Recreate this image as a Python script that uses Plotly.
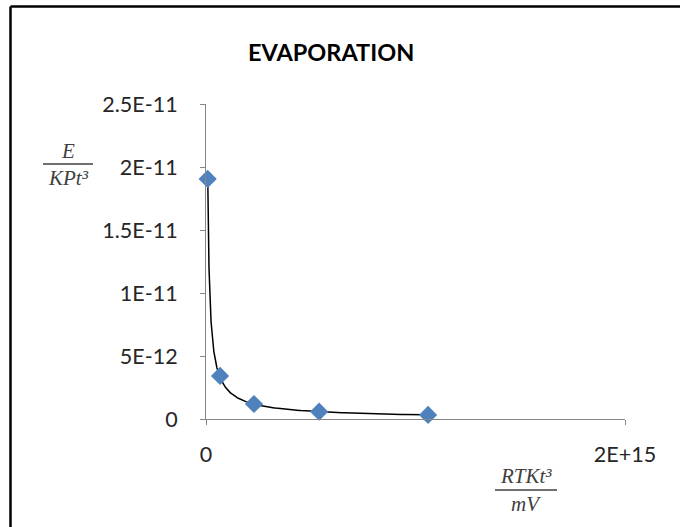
import numpy as np
import plotly.graph_objects as go

# ---- data ----
x_vals = [8e12, 6.7e13, 2.29e14, 5.4e14, 1.06e15]
y_vals = [1.905e-11, 3.42e-12, 1.19e-12, 0.58e-12, 0.32e-12]

y_tickvals = [0, 5e-12, 1e-11, 1.5e-11, 2e-11, 2.5e-11]
y_ticktext = ["0", "5E-12", "1E-11", "1.5E-11", "2E-11", "2.5E-11"]
x_tickvals = [0, 2e15]
x_ticktext = ["0", "2E+15"]

title_text = "EVAPORATION"

# ---- power trendline fitted to the data (like the spreadsheet's power trendline) ----
b, loga = np.polyfit(np.log(x_vals), np.log(y_vals), 1)
x_fit = np.geomspace(min(x_vals), max(x_vals), 300)
y_fit = np.exp(loga) * x_fit ** b

W, H = 680, 527
OFF = 0                      # page body margin (removed by post_script)
SL, ST, PW, PH = 206, 104, 419, 315   # plot area in screen pixels
L, T = SL - OFF, ST - OFF
R, B = W - L - PW, H - T - PH


def px(x):
    return (x - SL) / PW


def py(y):
    return (ST + PH - y) / PH


AXC = "#868686"
FONT = "Lato"

fig = go.Figure()
fig.add_trace(go.Scatter(x=x_fit, y=y_fit, mode="lines",
                         line=dict(color="black", width=1.5),
                         hoverinfo="skip", showlegend=False))
fig.add_trace(go.Scatter(x=x_vals, y=y_vals, mode="markers",
                         marker=dict(symbol="diamond", size=14, color="#4F81BD",
                                     line=dict(width=0)),
                         showlegend=False, cliponaxis=False))

fig.update_layout(
    width=W, height=H,
    margin=dict(l=L, r=R, t=T, b=B, autoexpand=False),
    paper_bgcolor="white", plot_bgcolor="white",
    font=dict(family=FONT, size=21.5, color="#262626"),
    xaxis=dict(range=[0, 2e15], tickvals=x_tickvals, ticktext=x_ticktext,
               showgrid=False, zeroline=False, showline=True, linecolor=AXC,
               linewidth=1, ticks="outside", ticklen=5, tickcolor=AXC,
               ticklabelstandoff=11, fixedrange=True),
    yaxis=dict(range=[0, 2.5e-11], tickvals=y_tickvals, ticktext=y_ticktext,
               showgrid=False, zeroline=False, showline=True, linecolor=AXC,
               linewidth=1, ticks="outside", ticklen=5, tickcolor=AXC,
               ticklabelstandoff=18, fixedrange=True),
)

shapes = [
    # outer frame (top and left edges visible)
    dict(type="line", xref="paper", yref="paper", x0=px(10.5), x1=px(700),
         y0=py(6.5), y1=py(6.5), line=dict(color="black", width=2.5)),
    dict(type="line", xref="paper", yref="paper", x0=px(10.5), x1=px(10.5),
         y0=py(6.5), y1=py(545), line=dict(color="black", width=2.5)),
    # fraction bars
    dict(type="line", xref="paper", yref="paper", x0=px(43), x1=px(93),
         y0=py(164), y1=py(164), line=dict(color="#404040", width=1.5)),
    dict(type="line", xref="paper", yref="paper", x0=px(495), x1=px(557),
         y0=py(490), y1=py(490), line=dict(color="#404040", width=1.5)),
]
fig.update_layout(shapes=shapes)

SERIF = dict(family="Liberation Serif", size=21, color="#404040")
ann = [
    dict(text="<b>" + title_text + "</b>", x=px(331), y=py(52),
         font=dict(family=FONT, size=23.5, color="black")),
    dict(text="<i>E</i>", x=px(68), y=py(151), font=SERIF),
    dict(text="<i>KPt³</i>", x=px(68), y=py(178), font=SERIF),
    dict(text="<i>RTKt³</i>", x=px(526), y=py(476), font=SERIF),
    dict(text="<i>mV</i>", x=px(526), y=py(504), font=SERIF),
]
for a in ann:
    a.update(xref="paper", yref="paper", xanchor="center", yanchor="middle",
             showarrow=False)
fig.update_layout(annotations=ann)

fig.write_html("out.html",
               config={"displayModeBar": False},
               post_script="document.body.style.margin='0';"
                           "document.body.style.overflow='hidden';")
